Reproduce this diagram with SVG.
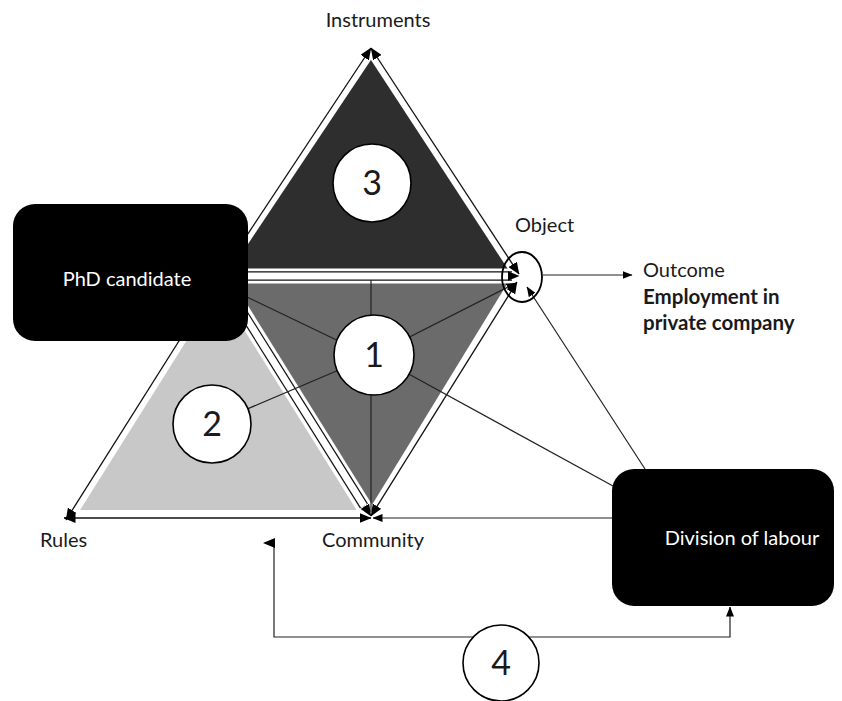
<svg xmlns="http://www.w3.org/2000/svg" width="842" height="701" viewBox="0 0 842 701">
<defs>
<marker id="ah" viewBox="0 0 12 10" refX="11.5" refY="5" markerWidth="12" markerHeight="10" markerUnits="userSpaceOnUse" orient="auto-start-reverse"><path d="M0,0 L12,5 L0,10 z" fill="#000"/></marker>
<marker id="as" viewBox="0 0 10 8" refX="9.5" refY="4" markerWidth="10" markerHeight="8" markerUnits="userSpaceOnUse" orient="auto-start-reverse"><path d="M0,0 L10,4 L0,8 z" fill="#000"/></marker>
</defs>
<style>
text{font-family:Lato,"Open Sans","Liberation Sans",sans-serif;fill:#1a1a1a}
.lbl{font-size:20px}
.bold{font-size:20.5px;font-weight:bold}
.num{font-size:34px;text-anchor:middle}
.wt{fill:#fff;font-size:20px;text-anchor:middle}
.clr{stroke:#fff;fill:none}
.ln{stroke:#111;stroke-width:1.3;fill:none}
.dbl-b{stroke:#111;stroke-width:9.4;fill:none}
.dbl-w{stroke:#fff;stroke-width:7;fill:none}
.thin{stroke:#222;stroke-width:1.2;fill:none}
.circ{fill:#fff;stroke:#000;stroke-width:1.6}
.box{fill:#000}
</style>
<rect width="842" height="701" fill="#fff"/>
<g id="triangles">
<polygon points="371,50 220,276 519,276" fill="#2e2e2e"/>
<polygon points="220,276 519,276 371,518" fill="#6b6b6b"/>
<polygon points="220,276 68,518 371,518" fill="#c8c8c8"/>
</g>
<g id="edges">
<line class="clr" x1="371" y1="50" x2="220" y2="276" stroke-width="11"/>
<line class="clr" x1="371" y1="50" x2="519" y2="276" stroke-width="11"/>
<line class="clr" x1="220" y1="276" x2="68" y2="518" stroke-width="12"/>
<line class="clr" x1="519" y1="276" x2="371" y2="518" stroke-width="12"/>
<line class="clr" x1="68" y1="518" x2="371" y2="518" stroke-width="16"/>
<line class="clr" x1="220" y1="276" x2="519" y2="276" stroke-width="15"/>
<line class="clr" x1="220" y1="276" x2="371" y2="518" stroke-width="16"/>
<path class="ln" d="M220,276 L371,48" marker-end="url(#ah)"/>
<path class="ln" d="M371,48 L519,274" marker-start="url(#ah)" marker-end="url(#ah)"/>
<path class="ln" d="M220,276 L66,520" marker-end="url(#ah)"/>
<path class="ln" d="M64,518 L371,518" marker-start="url(#ah)" marker-end="url(#ah)"/>
<path class="ln" d="M517,282 L371,516" marker-start="url(#ah)" marker-end="url(#ah)"/>
<path class="dbl-b" d="M220,276 L512,276"/>
<path class="dbl-w" d="M220,276 L512,276"/>
<path fill="none" stroke="none" d="M220,276 L519,276" marker-end="url(#ah)"/>
<path class="dbl-b" d="M220,276 L364,506"/>
<path class="dbl-w" d="M220,276 L364,506"/>
<path fill="none" stroke="none" d="M220,276 L371,516" marker-end="url(#ah)"/>
</g>
<g id="connectors">
<line class="thin" x1="371" y1="280" x2="371" y2="512"/>
<line class="thin" x1="247" y1="297" x2="374" y2="358"/>
<path class="thin" d="M374,355 L516,283" marker-end="url(#as)"/>
<line class="thin" x1="374" y1="355" x2="212" y2="424"/>
<line class="thin" x1="374" y1="355" x2="613" y2="486"/>
<path class="thin" d="M645,469 L527,287" marker-end="url(#as)"/>
<path class="thin" d="M612,518 L373,518" marker-end="url(#as)"/>
<path class="thin" d="M543,275 L632,275" marker-end="url(#as)"/>
<path class="thin" d="M274,546 V637 H730 V607" marker-end="url(#as)"/>
<polygon points="263,543 275,538 275,548" fill="#000"/>
<ellipse cx="522" cy="277" rx="20" ry="25" fill="none" stroke="#000" stroke-width="1.8"/>
</g>
<g id="circle3"><circle class="circ" cx="372" cy="183" r="39"/><text class="num" x="372" y="195">3</text></g>
<g id="circle1"><circle class="circ" cx="374" cy="355" r="40"/><text class="num" x="374" y="367">1</text></g>
<g id="circle2"><circle class="circ" cx="212" cy="424" r="39"/><text class="num" x="212" y="436">2</text></g>
<g id="circle4"><circle class="circ" cx="501" cy="663" r="38"/><text class="num" x="501" y="675">4</text></g>
<g id="phd"><rect class="box" x="13" y="204" width="235" height="137" rx="22"/><text class="wt" x="127" y="286">PhD candidate</text></g>
<g id="dol"><rect class="box" x="612" y="469" width="222" height="137" rx="22"/><text class="wt" x="742" y="545">Division of labour</text></g>
<g id="labels">
<text class="lbl" x="378" y="27" text-anchor="middle">Instruments</text>
<text class="lbl" x="515" y="232">Object</text>
<text class="lbl" x="643" y="277">Outcome</text>
<text class="bold" x="643" y="304">Employment in</text>
<text class="bold" x="643" y="330">private company</text>
<text class="lbl" x="40" y="547">Rules</text>
<text class="lbl" x="322" y="547">Community</text>
</g>
</svg>
